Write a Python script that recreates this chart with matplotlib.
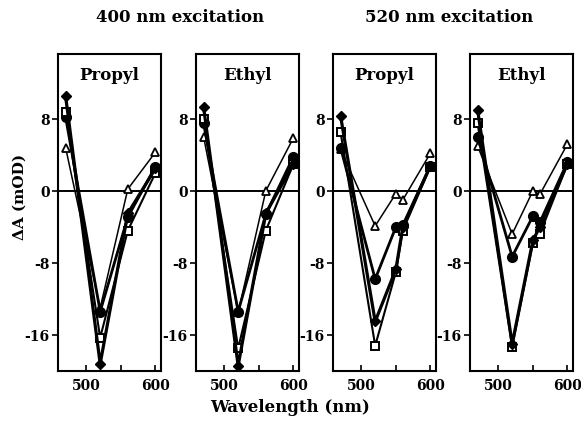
import matplotlib
matplotlib.use("Agg")
import matplotlib.pyplot as plt

# wavelengths probed (nm)
wl_400 = [470, 520, 560, 600]
wl_520 = [470, 520, 550, 560, 600]

# 400 nm excitation, Propyl
p400_diamond = [10.5, -19.2, -2.5, 2.5]
p400_square = [8.8, -16.3, -4.4, 2.0]
p400_circle = [8.2, -13.4, -2.9, 2.7]
p400_triangle = [4.8, -13.0, 0.2, 4.3]

# 400 nm excitation, Ethyl
e400_diamond = [9.3, -19.4, -2.5, 3.0]
e400_square = [8.0, -17.5, -4.4, 3.0]
e400_circle = [7.5, -13.4, -2.6, 3.8]
e400_triangle = [6.0, -13.5, 0.0, 5.9]

# 520 nm excitation, Propyl
p520_diamond = [8.3, -14.5, -8.7, -4.0, 2.8]
p520_square = [6.5, -17.2, -9.0, -4.4, 2.7]
p520_circle = [4.8, -9.8, -4.0, -3.8, 2.8]
p520_triangle = [4.6, -3.9, -0.3, -1.0, 4.2]

# 520 nm excitation, Ethyl
e520_diamond = [9.0, -17.0, -5.5, -4.0, 3.0]
e520_square = [7.5, -17.3, -5.8, -4.8, 3.0]
e520_circle = [6.0, -7.3, -2.8, -3.5, 3.2]
e520_triangle = [5.0, -4.8, 0.0, -0.4, 5.2]

panel_names = ["Propyl", "Ethyl", "Propyl", "Ethyl"]
yticks = [8, 0, -8, -16]

plt.rcParams['font.family'] = ['DejaVu Serif']
plt.rcParams['font.weight'] = 'bold'

W, H = 581, 435
fig = plt.figure(figsize=(W / 100, H / 100), dpi=100)

panels = [
    (wl_400, p400_diamond, p400_square, p400_circle, p400_triangle),
    (wl_400, e400_diamond, e400_square, e400_circle, e400_triangle),
    (wl_520, p520_diamond, p520_square, p520_circle, p520_triangle),
    (wl_520, e520_diamond, e520_square, e520_circle, e520_triangle),
]
lefts = [58, 196, 333, 470]

for i, (x, dia, sq, circ, tri) in enumerate(panels):
    ax = fig.add_axes([lefts[i] / W, (H - 372) / H, 103 / W, 317 / H])
    ax.axhline(0, color='black', lw=1.4, zorder=1)
    ax.plot(x, tri, color='black', lw=1.1, marker='^', ms=6,
            mfc='white', mec='black', mew=1.3, zorder=2)
    ax.plot(x, circ, color='black', lw=2.0, marker='o', ms=7,
            mfc='black', mec='black', zorder=3)
    ax.plot(x, sq, color='black', lw=1.5, marker='s', ms=6,
            mfc='white', mec='black', mew=1.4, zorder=4)
    ax.plot(x, dia, color='black', lw=2.3, marker='D', ms=5,
            mfc='black', mec='black', zorder=5)
    ax.set_xlim(459, 608)
    ax.set_ylim(-20, 15.2)
    ax.set_xticks([500, 550, 600])
    ax.set_xticklabels(['500', '', '600'])
    ax.set_yticks(yticks)
    ax.set_yticklabels([str(v) for v in yticks])
    ax.tick_params(axis='x', direction='in', length=4, width=1.2, pad=5, labelsize=10)
    ax.tick_params(axis='y', direction='out', length=4, width=1.2, pad=2, labelsize=10)
    for lab in ax.get_xticklabels() + ax.get_yticklabels():
        lab.set_fontweight('bold')
    for sp in ax.spines.values():
        sp.set_linewidth(1.5)
    ax.text(0.5, 0.935, panel_names[i], transform=ax.transAxes,
            ha='center', va='center', fontsize=12, fontweight='bold')

fig.text(180 / W, 1 - 17 / H, "400 nm excitation", ha='center', va='center',
         fontsize=12, fontweight='bold')
fig.text(449 / W, 1 - 17 / H, "520 nm excitation", ha='center', va='center',
         fontsize=12, fontweight='bold')
fig.text(290 / W, 1 - 408 / H, "Wavelength (nm)", ha='center', va='center',
         fontsize=12, fontweight='bold')
fig.text(20 / W, 1 - 197 / H, "ΔA (mOD)", ha='center', va='center',
         rotation=90, fontsize=11, fontweight='bold')

fig.savefig("out.png", dpi=100)
